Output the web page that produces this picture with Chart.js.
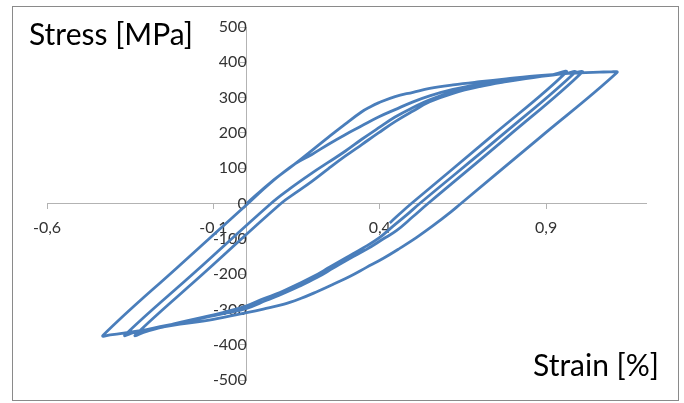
<!DOCTYPE html>
<html>
<head>
<meta charset="utf-8">
<script src="https://cdn.jsdelivr.net/npm/chart.js@4.4.1/dist/chart.umd.min.js"></script>
<style>
  html, body { margin: 0; padding: 0; background: #fff; }
  canvas { display: block; }
</style>
</head>
<body>
<canvas id="loopChart" width="684" height="403"></canvas>
<script>
// axis labels
const xTitle = 'Strain [%]';
const yTitle = 'Stress [MPa]';
const xTicks = [-0.6, -0.1, 0.4, 0.9];

// strain [%] along the recorded path (one continuous line)
const strain = [
  // first loading from zero
  0, 0.07, 0.145, 0.246, 0.296, 0.346, 0.372, 0.396, 0.446, 0.50, 0.55, 0.62, 0.70, 0.78, 0.85, 0.93, 1.00, 1.06, 1.095,
  // unloading 1
  1.113, 0.88, 0.644, 0.611, 0.56, 0.511, 0.46, 0.411, 0.36, 0.311, 0.26, 0.211, 0.16, 0.11, 0.05, 0.0, -0.10, -0.20, -0.30, -0.37, -0.41,
  // reloading 1
  -0.432, -0.20, 0.004, 0.07, 0.145, 0.196, 0.246, 0.296, 0.346, 0.396, 0.446, 0.50, 0.55, 0.62, 0.70, 0.78, 0.85, 0.93, 0.98,
  // unloading 2
  1.008, 0.78, 0.545, 0.50, 0.45, 0.411, 0.36, 0.311, 0.26, 0.211, 0.16, 0.11, 0.06, 0.0, -0.06, -0.12, -0.20, -0.28, -0.34,
  // reloading 2
  -0.366, -0.15, 0.073, 0.13, 0.196, 0.246, 0.296, 0.346, 0.396, 0.446, 0.50, 0.55, 0.62, 0.70, 0.78, 0.85, 0.92, 0.96,
  // unloading 3
  0.987, 0.76, 0.52, 0.48, 0.44, 0.40, 0.35, 0.30, 0.25, 0.20, 0.15, 0.10, 0.05, 0.0, -0.06, -0.12, -0.20, -0.26, -0.31,
  // reloading 3
  -0.335, -0.12, 0.103, 0.15, 0.196, 0.246, 0.296, 0.346, 0.396, 0.446, 0.50, 0.55, 0.62, 0.70, 0.78, 0.85, 0.92,
  // last unloading (stops early)
  0.96, 0.73, 0.495, 0.46, 0.43
];

// stress [MPa] for each strain value above
const stress = [
  0, 58, 112, 188, 225, 260, 274, 285, 303, 315, 326, 336, 345, 353, 360, 366, 370, 372, 373,
  371, 186, 0, -26, -63, -96, -127, -155, -181, -206, -229, -250, -270, -286, -299, -309, -328, -342, -357, -367, -372,
  -374, -174, 0, 57, 112, 139, 168, 195, 220, 245, 266, 288, 305, 323, 338, 350, 358, 366, 370,
  372, 186, 0, -37, -77, -100, -130, -155, -183, -210, -234, -255, -274, -297, -310, -322, -338, -353, -366,
  -373, -190, 0, 42, 86, 117, 148, 182, 214, 245, 272, 294, 316, 334, 347, 356, 364, 369,
  372, 188, 0, -33, -64, -96, -126, -153, -180, -207, -230, -252, -270, -290, -306, -320, -337, -352, -365,
  -373, -190, 0, 32, 63, 99, 134, 167, 200, 232, 262, 288, 312, 331, 345, 355, 365,
  372, 186, 0, -29, -55
];

const points = strain.map((x, i) => ({ x: x, y: stress[i] }));

Chart.defaults.font.family = 'Lato';
Chart.defaults.font.size = 16;
Chart.defaults.color = '#333333';

const framePlugin = {
  id: 'frame',
  beforeDraw(chart) {
    const ctx = chart.ctx;
    ctx.save();
    ctx.fillStyle = '#ffffff';
    ctx.fillRect(0, 0, chart.width, chart.height);
    ctx.strokeStyle = '#8a8a8a';
    ctx.lineWidth = 1;
    ctx.strokeRect(12.5, 6.5, 666, 394);
    ctx.restore();
  },
  afterDraw(chart) {
    const ctx = chart.ctx;
    const area = chart.chartArea;
    ctx.save();
    ctx.fillStyle = '#000000';
    ctx.textBaseline = 'alphabetic';
    ctx.font = '30px Lato';
    ctx.textAlign = 'left';
    ctx.fillText(yTitle, 29, 45);
    ctx.textAlign = 'right';
    ctx.fillText(xTitle, area.right + 13, area.bottom - 4);
    ctx.restore();
  }
};

new Chart(document.getElementById('loopChart'), {
  type: 'scatter',
  data: {
    datasets: [{
      data: points,
      showLine: true,
      borderColor: '#4a7ebb',
      borderWidth: 2.8,
      pointRadius: 0,
      tension: 0.4,
      fill: false
    }]
  },
  options: {
    responsive: false,
    animation: false,
    layout: { padding: { left: 47, right: 38, top: 27, bottom: 23 } },
    plugins: {
      legend: { display: false },
      tooltip: { enabled: false }
    },
    scales: {
      x: {
        type: 'linear',
        min: -0.6,
        max: 1.2,
        position: { y: 0 },
        afterBuildTicks: axis => { axis.ticks = xTicks.map(v => ({ value: v })); },
        ticks: {
          padding: 10,
          callback: v => String(v).replace('.', ',')
        },
        grid: { drawOnChartArea: false, drawTicks: true, tickLength: 5, color: '#b3b3b3' },
        border: { display: true, color: '#b3b3b3', width: 1 }
      },
      y: {
        type: 'linear',
        min: -500,
        max: 500,
        position: { x: 0 },
        ticks: {
          stepSize: 100,
          padding: 11,
          callback: v => String(v)
        },
        grid: { drawOnChartArea: false, drawTicks: true, tickLength: 6, color: '#b3b3b3' },
        border: { display: true, color: '#b3b3b3', width: 1 }
      }
    }
  },
  plugins: [framePlugin]
});
</script>
</body>
</html>
